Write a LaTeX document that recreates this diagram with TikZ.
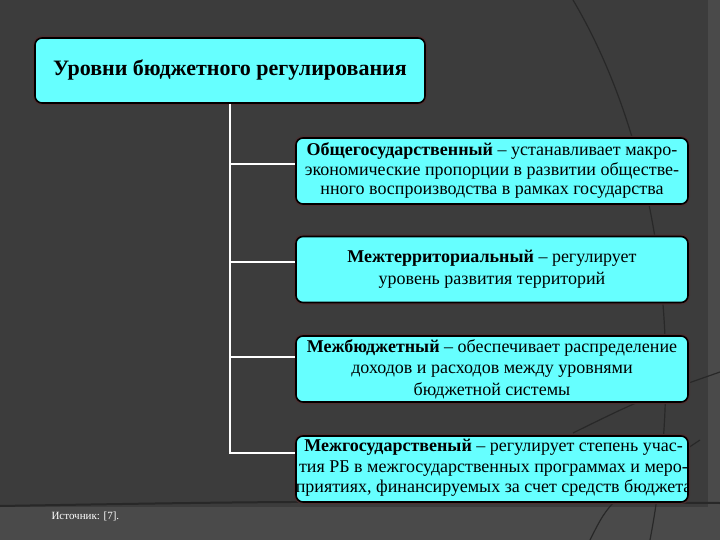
\documentclass[tikz,border=0pt]{standalone}
\usepackage{fontspec}
\setmainfont{Liberation Serif}
\usetikzlibrary{positioning}
\definecolor{slide}{HTML}{3C3C3C}
\definecolor{band}{HTML}{4A4A4A}
\definecolor{curve}{HTML}{282828}
\definecolor{boxfill}{HTML}{66FFFF}
\definecolor{glow}{HTML}{4E2F30}
\tikzset{
  level/.style={draw=black, line width=1.6pt, fill=boxfill, rounded corners=7pt,
    preaction={draw=glow, line width=4pt},
    minimum width=392pt, minimum height=66pt, align=center, inner sep=0pt,
    font=\fontsize{18}{19.5}\selectfont},
  link/.style={draw=white, line width=2pt}
}
\begin{document}
\begin{tikzpicture}[x=1pt,y=-1pt]
\useasboundingbox (0,0) rectangle (720,540);
% background of the slide
\fill[slide] (0,0) rectangle (720,540);
\fill[band] (0,507) rectangle (720,540);
\fill[band] (708,0) rectangle (720,507);
\draw[curve, line width=2pt] (0,506) .. controls (300,501) .. (720,503);
\draw[curve, line width=1.2pt] (573,0) .. controls (650,130) and (690,330) .. (650,540);
\draw[curve, line width=1.2pt] (573,433) .. controls (640,400) .. (720,372);
\draw[curve, line width=1.2pt] (590,540) .. controls (610,500) .. (700,440);
% boxes
\node[level, minimum width=390pt, minimum height=65pt,
  font=\fontsize{22}{24}\selectfont\bfseries] (top) at (230,70.5)
  {Уровни бюджетного регулирования};
\node[level] (b1) at (492,171)
  {\textbf{Общегосударственный} – устанавливает макро-\\
   экономические пропорции в развитии обществе-\\
   нного воспроизводства в рамках государства};
\node[level, font=\fontsize{18}{22}\selectfont] (b2) at (492,269.5)
  {\textbf{Межтерриториальный} – регулирует\\
   уровень развития территорий};
\node[level, font=\fontsize{18}{21.5}\selectfont] (b3) at (492,369)
  {\textbf{Межбюджетный} – обеспечивает распределение\\
   доходов и расходов между уровнями\\
   бюджетной системы};
% text of the last box runs past its right edge and is cut off
\node[level, path picture={
    \node[anchor=west, align=center, inner sep=0pt, font=\fontsize{18}{20.5}\selectfont]
      at ([xshift=-1pt,yshift=1pt]path picture bounding box.west)
      {\textbf{Межгосударственый} – регулирует степень учас-\\
       тия РБ в межгосударственных программах и меро-\\
       приятиях, финансируемых за счет средств бюджета};}] (b4) at (492,469) {};
% connectors
\coordinate (j1) at ([yshift=7pt]b1.west);
\coordinate (j2) at ([yshift=8pt]b2.west);
\coordinate (j3) at ([yshift=12pt]b3.west);
\coordinate (j4) at ([yshift=16pt]b4.west);
\draw[link] (top.south) |- (j4);
\foreach \j in {j1,j2,j3}
  \draw[link] (top.south |- \j) -- (\j);
\node[text=white, anchor=west, font=\fontsize{11}{12}\selectfont] (src) at (48,516)
  {Источник: [7].};
\end{tikzpicture}
\end{document}
